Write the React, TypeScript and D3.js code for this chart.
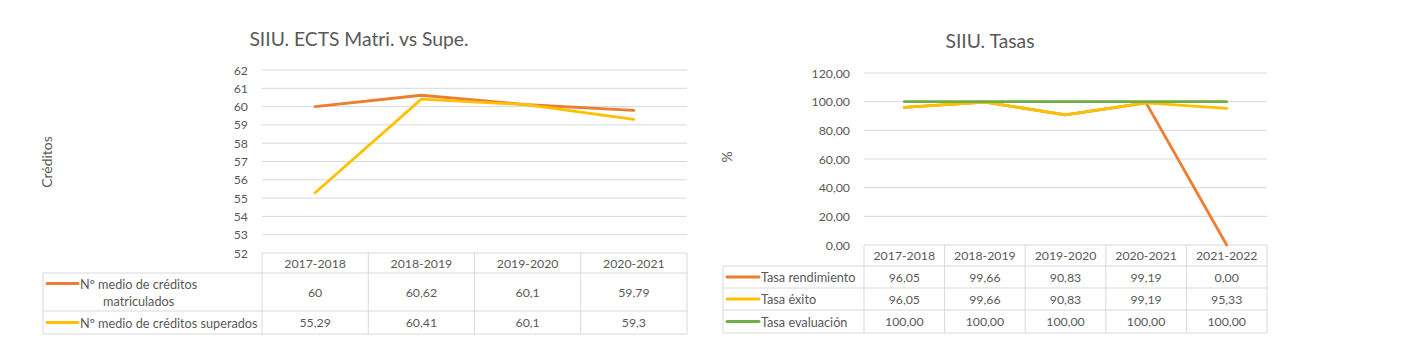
import React from "react";
import * as d3 from "d3";

// ---- Data: left chart ----
const leftCategories = ["2017-2018", "2018-2019", "2019-2020", "2020-2021"];
const leftSeriesNames = ["Nº medio de créditos matriculados", "Nº medio de créditos superados"];
const leftMatriculados = [60, 60.62, 60.1, 59.79];
const leftSuperados = [55.29, 60.41, 60.1, 59.3];
const leftLabelsMatri = ["60", "60,62", "60,1", "59,79"];
const leftLabelsSupe = ["55,29", "60,41", "60,1", "59,3"];
const leftTicks = [52, 53, 54, 55, 56, 57, 58, 59, 60, 61, 62];

// ---- Data: right chart ----
const rightCategories = ["2017-2018", "2018-2019", "2019-2020", "2020-2021", "2021-2022"];
const rightSeriesNames = ["Tasa rendimiento", "Tasa éxito", "Tasa evaluación"];
const tasaRendimiento = [96.05, 99.66, 90.83, 99.19, 0.0];
const tasaExito = [96.05, 99.66, 90.83, 99.19, 95.33];
const tasaEvaluacion = [100, 100, 100, 100, 100];
const rightTicks = [0, 20, 40, 60, 80, 100, 120];

const ORANGE = "#ED7D31";
const YELLOW = "#FFC000";
const GREEN = "#70AD47";
const GRID = "#D9D9D9";
const TEXT = "#595959";
const FONT = "Lato, 'Open Sans', sans-serif";

type Series = { name: string; values: number[]; labels: string[]; color: string };

function measure(text: string, size: number) {
  if (typeof document === "undefined") return text.length * size * 0.5;
  const c = (measure as any).c || ((measure as any).c = document.createElement("canvas"));
  const ctx = c.getContext("2d");
  ctx.font = `${size}px Lato`;
  return ctx.measureText(text).width;
}

function wrap(text: string, maxW: number, size: number): string[] {
  const words = text.split(" ");
  const lines: string[] = [];
  let cur = "";
  for (const w of words) {
    const t = cur ? cur + " " + w : w;
    if (measure(t, size) > maxW && cur) {
      lines.push(cur);
      cur = w;
    } else cur = t;
  }
  if (cur) lines.push(cur);
  return lines;
}

type ChartProps = {
  title: string;
  titleX: number;
  titleY: number;
  yTitle: string;
  yTitleX: number;
  yTitleY: number;
  categories: string[];
  series: Series[];
  drawOrder: number[];
  ticks: number[];
  tickFmt: (v: number) => string;
  domain: [number, number];
  plotX0: number;
  plotX1: number;
  plotY0: number;
  plotY1: number;
  tableLeft: number;
  headerH: number;
  rowHs: number[];
  keyX0: number;
  keyX1: number;
  textX: number;
  wrapW: number;
};

function Chart(p: ChartProps) {
  const x = d3.scaleBand<string>().domain(p.categories).range([p.plotX0, p.plotX1]);
  const y = d3.scaleLinear().domain(p.domain).range([p.plotY1, p.plotY0]);
  const line = d3
    .line<number>()
    .x((_, i) => (x(p.categories[i]) as number) + x.bandwidth() / 2)
    .y((d) => y(d));
  const fs = 12.3;
  const nameFs = 12.7;
  const tableTop = p.plotY1;
  const headerBottom = tableTop + p.headerH;
  const rowTops: number[] = [];
  let acc = headerBottom;
  p.rowHs.forEach((h) => {
    rowTops.push(acc);
    acc += h;
  });
  const tableBottom = acc;
  return (
    <g fontFamily={FONT} fill={TEXT}>
      <text x={p.titleX} y={p.titleY} textAnchor="middle" fontSize={19.3} fill={TEXT}>
        {p.title}
      </text>
      <text
        transform={`translate(${p.yTitleX},${p.yTitleY}) rotate(-90)`}
        textAnchor="middle"
        dominantBaseline="central"
        fontSize={14}
      >
        {p.yTitle}
      </text>
      {p.ticks.map((t) => (
        <g key={t}>
          {t !== p.domain[0] && (
            <line x1={p.plotX0} x2={p.plotX1} y1={y(t)} y2={y(t)} stroke={GRID} strokeWidth={1} />
          )}
          <text x={p.plotX0 - 14} y={y(t)} textAnchor="end" dominantBaseline="central" fontSize={fs}>
            {p.tickFmt(t)}
          </text>
        </g>
      ))}
      {/* table borders */}
      <g stroke={GRID} strokeWidth={1} fill="none">
        <line x1={p.plotX0} x2={p.plotX1} y1={tableTop} y2={tableTop} />
        {rowTops.map((r, i) => (
          <line key={i} x1={p.tableLeft} x2={p.plotX1} y1={r} y2={r} />
        ))}
        <line x1={p.tableLeft} x2={p.plotX1} y1={tableBottom} y2={tableBottom} />
        <line x1={p.tableLeft} x2={p.tableLeft} y1={headerBottom} y2={tableBottom} />
        {p.categories.map((c) => (
          <line key={c} x1={x(c)} x2={x(c)} y1={tableTop} y2={tableBottom} />
        ))}
        <line x1={p.plotX1} x2={p.plotX1} y1={tableTop} y2={tableBottom} />
      </g>
      {p.categories.map((c) => (
        <text
          key={c}
          x={(x(c) as number) + x.bandwidth() / 2}
          y={tableTop + p.headerH / 2}
          textAnchor="middle"
          dominantBaseline="central"
          fontSize={fs}
        >
          {c}
        </text>
      ))}
      {p.series.map((s, si) => {
        const top = rowTops[si];
        const h = p.rowHs[si];
        const lines = wrap(s.name, p.wrapW, nameFs);
        const blockW = Math.max(...lines.map((l) => measure(l, nameFs)));
        const lh = 17;
        const firstY = top + h / 2 - ((lines.length - 1) * lh) / 2;
        return (
          <g key={s.name}>
            <line
              x1={p.keyX0}
              x2={p.keyX1}
              y1={firstY}
              y2={firstY}
              stroke={s.color}
              strokeWidth={3}
              strokeLinecap="round"
            />
            {lines.map((l, li) => (
              <text
                key={li}
                x={lines.length > 1 ? p.textX + blockW / 2 : p.textX}
                y={firstY + li * lh}
                textAnchor={lines.length > 1 ? "middle" : "start"}
                dominantBaseline="central"
                fontSize={nameFs}
              >
                {l}
              </text>
            ))}
            {s.labels.map((lab, i) => (
              <text
                key={i}
                x={(x(p.categories[i]) as number) + x.bandwidth() / 2}
                y={top + h / 2}
                textAnchor="middle"
                dominantBaseline="central"
                fontSize={fs}
              >
                {lab}
              </text>
            ))}
          </g>
        );
      })}
      {p.drawOrder.map((idx) => {
        const s = p.series[idx];
        return (
          <path
            key={s.name}
            d={line(s.values) || ""}
            fill="none"
            stroke={s.color}
            strokeWidth={2.8}
            strokeLinejoin="round"
            strokeLinecap="round"
          />
        );
      })}
    </g>
  );
}

const fmt2 = (v: number) => v.toFixed(2).replace(".", ",");

export default function App() {
  const leftSeries: Series[] = [
    { name: leftSeriesNames[0], values: leftMatriculados, labels: leftLabelsMatri, color: ORANGE },
    { name: leftSeriesNames[1], values: leftSuperados, labels: leftLabelsSupe, color: YELLOW },
  ];
  const rightSeries: Series[] = [
    { name: rightSeriesNames[0], values: tasaRendimiento, labels: tasaRendimiento.map(fmt2), color: ORANGE },
    { name: rightSeriesNames[1], values: tasaExito, labels: tasaExito.map(fmt2), color: YELLOW },
    { name: rightSeriesNames[2], values: tasaEvaluacion, labels: tasaEvaluacion.map(fmt2), color: GREEN },
  ];
  return (
    <svg
      width={1402}
      height={360}
      style={{ position: "absolute", left: 0, top: 0, background: "#fff" }}
    >
      <rect width={1402} height={360} fill="#fff" />
      <Chart
        title="SIIU. ECTS Matri. vs Supe."
        titleX={359}
        titleY={46}
        yTitle="Créditos"
        yTitleX={46}
        yTitleY={162}
        categories={leftCategories}
        series={leftSeries}
        drawOrder={[0, 1]}
        ticks={leftTicks}
        tickFmt={(v) => String(v)}
        domain={[52, 62]}
        plotX0={262}
        plotX1={687}
        plotY0={70}
        plotY1={253}
        tableLeft={43}
        headerH={20}
        rowHs={[38, 23]}
        keyX0={47}
        keyX1={78}
        textX={80}
        wrapW={188}
      />
      <Chart
        title="SIIU. Tasas"
        titleX={990}
        titleY={48}
        yTitle="%"
        yTitleX={726}
        yTitleY={157}
        categories={rightCategories}
        series={rightSeries}
        drawOrder={[0, 1, 2]}
        ticks={rightTicks}
        tickFmt={fmt2}
        domain={[0, 120]}
        plotX0={864}
        plotX1={1267}
        plotY0={73}
        plotY1={245}
        tableLeft={723}
        headerH={21}
        rowHs={[22, 22, 23]}
        keyX0={727}
        keyX1={759}
        textX={761}
        wrapW={200}
      />
    </svg>
  );
}
